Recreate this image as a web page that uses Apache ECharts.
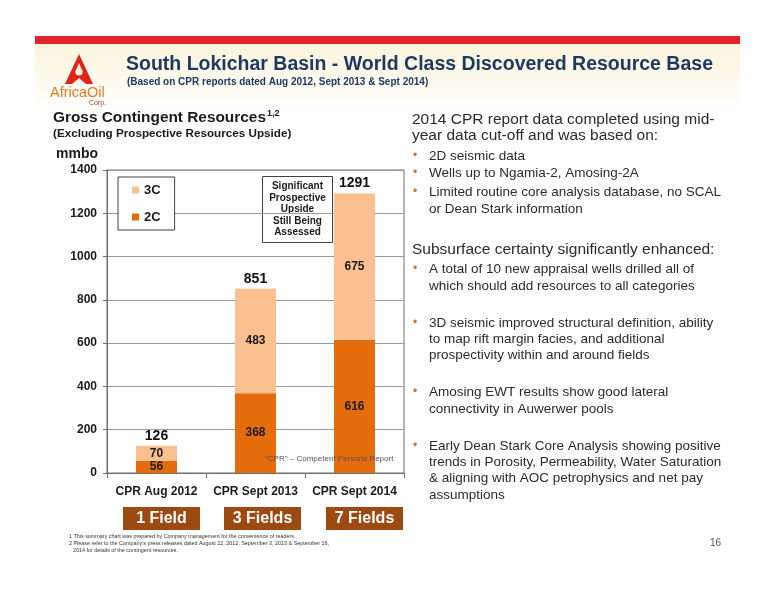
<!DOCTYPE html>
<html>
<head>
<meta charset="utf-8">
<title>South Lokichar Basin</title>
<script src="https://cdn.jsdelivr.net/npm/echarts@6/dist/echarts.min.js"></script>
<style>
  html, body { margin: 0; padding: 0; background: #fff; }
  #main { width: 776px; height: 600px; }
</style>
</head>
<body>
<div id="main"></div>
<script>
// chart data
const categories = ['CPR Aug 2012', 'CPR Sept 2013', 'CPR Sept 2014'];
const fields = ['1 Field', '3 Fields', '7 Fields'];
const c2Values = [56, 368, 616];
const c3Values = [70, 483, 675];
const totalValues = [126, 851, 1291];
const yMin = 0, yMax = 1400, yStep = 200;

const SANS = "'Liberation Sans', Arial, sans-serif";
const NAVY = '#1f3a60';
const TXT = '#2b2b2b';
const ORANGE = '#e46c0a';

// right hand text block
const rightText = [
  { t: '2014 CPR report data completed using mid-', y: 120, h: true },
  { t: 'year data cut-off and was based on:', y: 136, h: true },
  { t: '2D seismic data', y: 156, b: true },
  { t: 'Wells up to Ngamia-2, Amosing-2A', y: 173, b: true },
  { t: 'Limited routine core analysis database, no SCAL', y: 192, b: true },
  { t: 'or Dean Stark information', y: 209 },
  { t: 'Subsurface certainty significantly enhanced:', y: 250, h: true },
  { t: 'A total of 10 new appraisal wells drilled all of', y: 269, b: true },
  { t: 'which should add resources to all categories', y: 286 },
  { t: '3D seismic improved structural definition, ability', y: 323, b: true },
  { t: 'to map rift margin facies, and additional', y: 339 },
  { t: 'prospectivity within and around fields', y: 355 },
  { t: 'Amosing EWT results show good lateral', y: 392, b: true },
  { t: 'connectivity in Auwerwer pools', y: 409 },
  { t: 'Early Dean Stark Core Analysis showing positive', y: 446, b: true },
  { t: 'trends in Porosity, Permeability, Water Saturation', y: 462 },
  { t: '& aligning with AOC petrophysics and net pay', y: 478 },
  { t: 'assumptions', y: 495 }
];

const graphics = [];
// cream header band + red rule
graphics.push({
  type: 'rect', shape: { x: 35, y: 44, width: 705, height: 70 }, silent: true,
  style: { fill: new echarts.graphic.LinearGradient(0, 0, 0, 1, [
    { offset: 0, color: '#fbf4dc' }, { offset: 1, color: '#ffffff' }]) }
});
graphics.push({ type: 'rect', shape: { x: 35, y: 36, width: 705, height: 8 }, style: { fill: '#e3232b' } });

// logo
graphics.push({ type: 'polygon', shape: { points: [[79, 54], [93, 84], [86, 84], [79, 78], [72, 84], [65, 84]] }, style: { fill: '#e2231a' } });
graphics.push({ type: 'circle', shape: { cx: 79, cy: 72, r: 3.6 }, style: { fill: '#fbf4e0' } });
graphics.push({ type: 'polygon', shape: { points: [[79, 63], [75.6, 71], [82.4, 71]] }, style: { fill: '#fbf4e0' } });
graphics.push({ type: 'text', style: { text: 'AfricaOil', x: 50, y: 93, font: '14.5px ' + SANS, fill: '#e77c22', textVerticalAlign: 'middle' } });
graphics.push({ type: 'text', style: { text: 'Corp.', x: 106, y: 103, font: '7px ' + SANS, fill: '#b5452a', textAlign: 'right', textVerticalAlign: 'middle' } });

// titles
graphics.push({ type: 'text', style: { text: 'South Lokichar Basin - World Class Discovered Resource Base', x: 126, y: 65, font: 'bold 19.5px ' + SANS, fill: NAVY, textVerticalAlign: 'middle' } });
graphics.push({ type: 'text', style: { text: '(Based on CPR reports dated Aug 2012, Sept 2013 & Sept 2014)', x: 127, y: 82, font: 'bold 10px ' + SANS, fill: NAVY, textVerticalAlign: 'middle' } });

// left headings
graphics.push({ type: 'text', style: { text: 'Gross Contingent Resources', x: 53, y: 118, font: 'bold 15.4px ' + SANS, fill: '#1a1a1a', textVerticalAlign: 'middle' } });
graphics.push({ type: 'text', style: { text: '1,2', x: 267, y: 114, font: 'bold 9px ' + SANS, fill: '#1a1a1a', textVerticalAlign: 'middle' } });
graphics.push({ type: 'text', style: { text: '(Excluding Prospective Resources Upside)', x: 53, y: 134, font: 'bold 11.7px ' + SANS, fill: '#1a1a1a', textVerticalAlign: 'middle' } });
graphics.push({ type: 'text', style: { text: 'mmbo', x: 56, y: 154, font: 'bold 14px ' + SANS, fill: '#1a1a1a', textVerticalAlign: 'middle' } });

// annotation box
graphics.push({ type: 'rect', shape: { x: 262.5, y: 176.5, width: 70, height: 66 }, style: { fill: '#fff', stroke: '#404040', lineWidth: 1 } });
['Significant', 'Prospective', 'Upside', 'Still Being', 'Assessed'].forEach((s, i) => {
  graphics.push({ type: 'text', style: { text: s, x: 297.5, y: 186.5 + i * 11.5, font: 'bold 10px ' + SANS, fill: '#1a1a1a', textAlign: 'center', textVerticalAlign: 'middle' } });
});
graphics.push({ type: 'text', z: 10, style: { text: '"CPR" \u2013 Competent Persons Report', x: 265, y: 459, font: '8px ' + SANS, fill: '#555', textVerticalAlign: 'middle' } });

// field boxes
const fieldBoxX = [123, 224, 326];
fields.forEach((f, i) => {
  graphics.push({ type: 'rect', shape: { x: fieldBoxX[i], y: 507, width: 77, height: 23 }, style: { fill: '#9c4912' } });
  graphics.push({ type: 'text', style: { text: f, x: fieldBoxX[i] + 38.5, y: 519, font: 'bold 16px ' + SANS, fill: '#fff', textAlign: 'center', textVerticalAlign: 'middle' } });
});

// footnotes + page number
[
  ['1 This summary chart was prepared by Company management for the convenience of readers.', 69, 537],
  ['2 Please refer to the Company\u2019s press releases dated August 22, 2012, September 3, 2013 & September 16,', 69, 544],
  ['2014 for details of the contingent resources.', 73, 551]
].forEach(([s, x, y]) => {
  graphics.push({ type: 'text', style: { text: s, x: x, y: y, font: '5.4px ' + SANS, fill: '#333', textVerticalAlign: 'middle' } });
});
graphics.push({ type: 'text', style: { text: '16', x: 710, y: 543, font: '10px ' + SANS, fill: '#555', textVerticalAlign: 'middle' } });

// right side
rightText.forEach((r) => {
  if (r.b) {
    graphics.push({ type: 'text', style: { text: '\u2022', x: 413, y: r.y, font: '12px ' + SANS, fill: ORANGE, textVerticalAlign: 'middle' } });
  }
  graphics.push({ type: 'text', style: { text: r.t, x: r.h ? 412 : 429, y: r.y, font: (r.h ? '15.5px ' : '13.5px ') + SANS, fill: TXT, textVerticalAlign: 'middle' } });
});

const myChart = echarts.init(document.getElementById('main'));
const option = {
  animation: false,
  backgroundColor: '#fff',
  grid: { left: 107, right: 372, top: 170, bottom: 127, show: true, borderColor: '#6f6f6f', borderWidth: 1 },
  legend: {
    data: ['3C', '2C'],
    orient: 'vertical',
    left: 118, top: 177,
    padding: [6, 14, 6, 14],
    itemGap: 13,
    itemWidth: 7, itemHeight: 7,
    icon: 'rect',
    borderColor: '#404040', borderWidth: 1, backgroundColor: '#fff',
    textStyle: { fontFamily: SANS, fontWeight: 'bold', fontSize: 13, lineHeight: 14, color: '#1a1a1a' }
  },
  xAxis: {
    type: 'category',
    data: categories,
    axisLine: { lineStyle: { color: '#6f6f6f' } },
    axisTick: { show: true, length: 5, lineStyle: { color: '#6f6f6f' } },
    axisLabel: { interval: 0, margin: 13, fontFamily: SANS, fontWeight: 'bold', fontSize: 12, color: '#1a1a1a' }
  },
  yAxis: {
    type: 'value',
    min: yMin, max: yMax, interval: yStep,
    axisLine: { show: true, lineStyle: { color: '#6f6f6f' } },
    axisTick: { show: true, length: 4, lineStyle: { color: '#6f6f6f' } },
    splitLine: { lineStyle: { color: '#9a9a9a' } },
    axisLabel: { margin: 10, formatter: (v) => String(v), fontFamily: SANS, fontWeight: 'bold', fontSize: 12, color: '#1a1a1a' }
  },
  series: [
    {
      name: '2C', type: 'bar', stack: 'res', barWidth: 41,
      data: c2Values,
      itemStyle: { color: ORANGE },
      label: { show: true, position: 'inside', fontFamily: SANS, fontWeight: 'bold', fontSize: 12, color: '#1a1a1a' }
    },
    {
      name: '3C', type: 'bar', stack: 'res', barWidth: 41,
      data: c3Values,
      itemStyle: { color: '#fac090' },
      label: { show: true, position: 'inside', fontFamily: SANS, fontWeight: 'bold', fontSize: 12, color: '#1a1a1a' },
      markPoint: {
        symbol: 'rect', symbolSize: 0,
        label: { show: true, position: 'top', distance: 3, formatter: '{c}', fontFamily: SANS, fontWeight: 'bold', fontSize: 14, color: '#111' },
        data: totalValues.map((v, i) => ({ coord: [categories[i], v], value: v }))
      }
    }
  ],
  graphic: graphics
};
myChart.setOption(option);
</script>
</body>
</html>
